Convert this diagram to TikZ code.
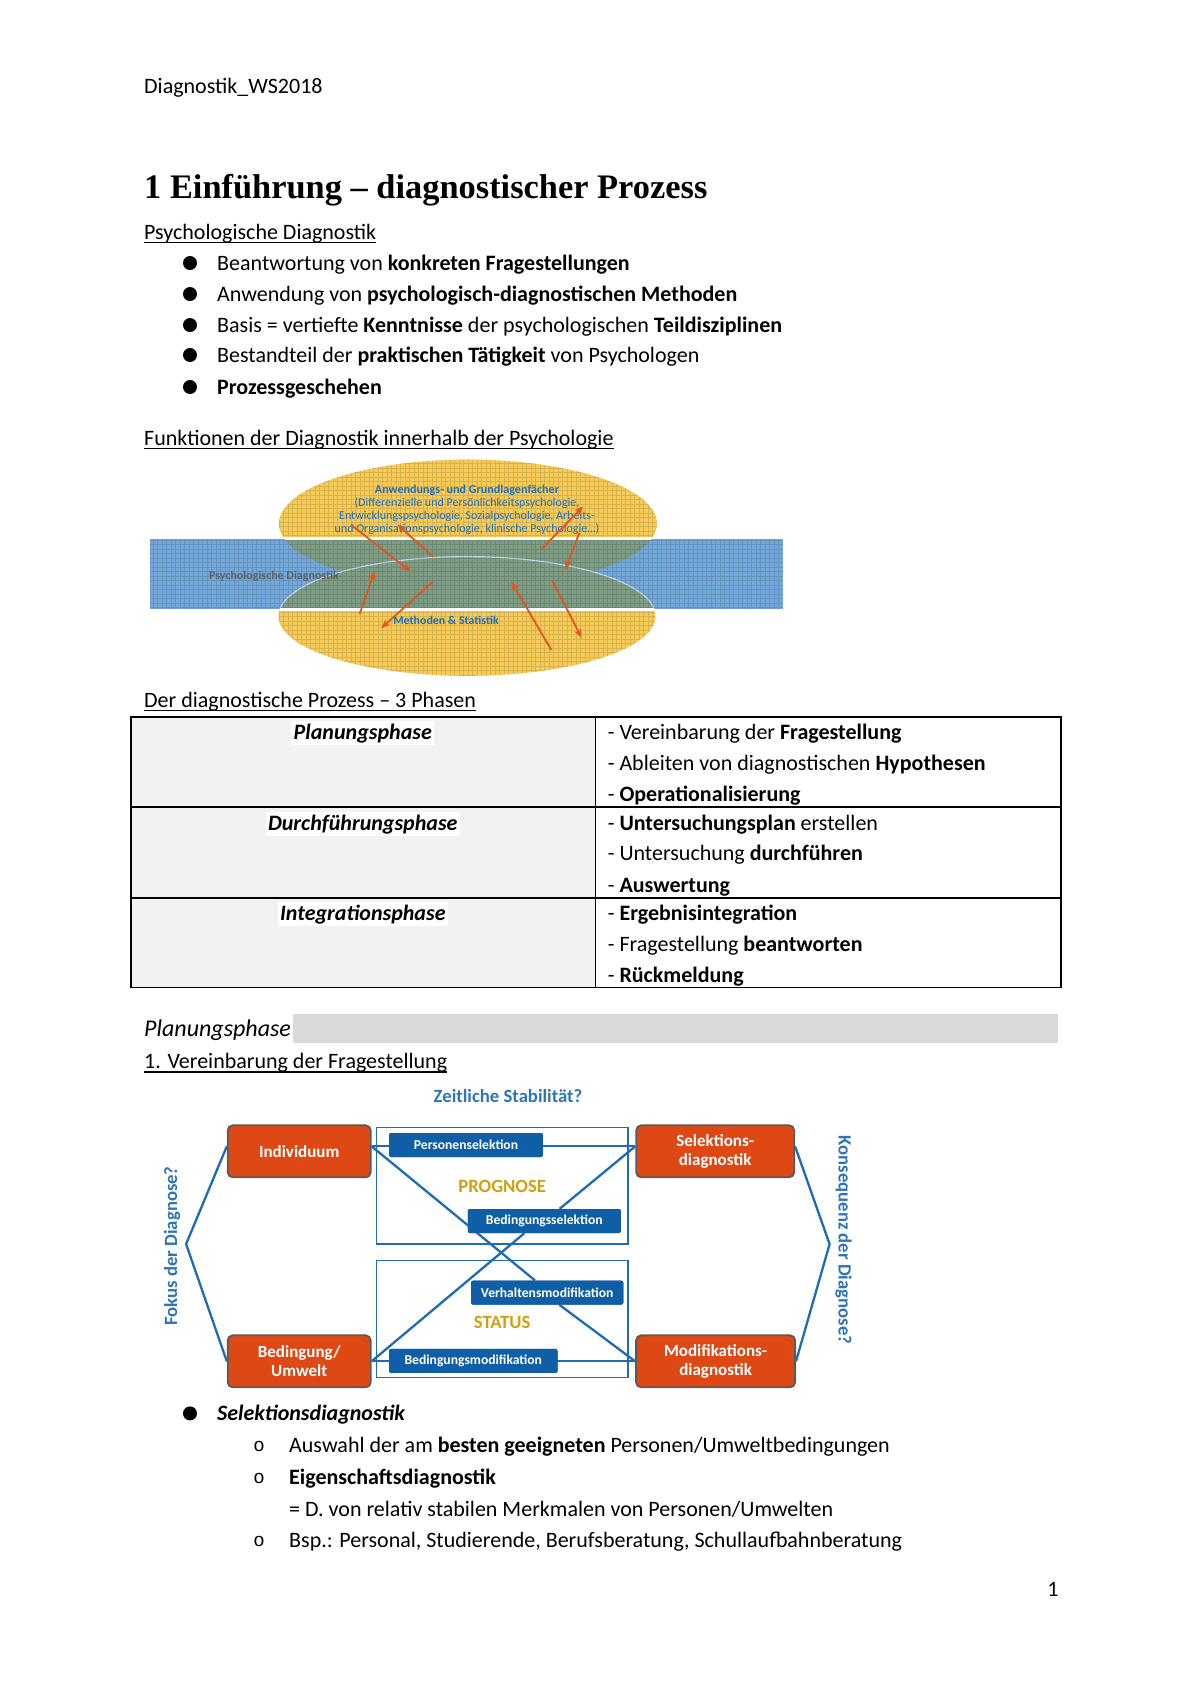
\documentclass[tikz,border=0pt]{standalone}
\usepackage{fontspec}
\setmainfont{Carlito}
\newfontfamily\headfont{Liberation Serif}
\newfontfamily\monofnt{Liberation Mono}
\usetikzlibrary{arrows.meta,calc}
\definecolor{ora}{HTML}{DD4814}
\definecolor{oraborder}{HTML}{5A5A5A}
\definecolor{bbox}{HTML}{0F5EA6}
\definecolor{bline}{HTML}{1F6CB4}
\definecolor{btext}{HTML}{2E75B6}
\definecolor{gold}{HTML}{D29F12}
\definecolor{ell}{HTML}{F7CB58}
\definecolor{bandc}{HTML}{74A8DA}
\definecolor{ovl}{HTML}{7E9D84}
\definecolor{arr}{HTML}{E4541E}
\definecolor{tgrey}{HTML}{F2F2F2}
\definecolor{barg}{HTML}{D9D9D9}
\definecolor{eltext}{HTML}{1F6FBF}
\tikzset{
 body/.style={anchor=base west, inner sep=0pt, font=\fontsize{22}{26}\selectfont},
 dotb/.style={circle, fill=black, inner sep=0pt, minimum size=14pt},
 subo/.style={anchor=base, inner sep=0pt, font=\monofnt\fontsize{19}{21}\selectfont},
 uline/.style={line width=1.1pt},
 tline/.style={line width=1.5pt},
 tlabel/.style={anchor=base, fill=white, inner sep=2.5pt, font=\bfseries\itshape\fontsize{22}{26}\selectfont},
 obox/.style={draw=oraborder, line width=1.8pt, fill=ora, rounded corners=5pt, text=white, font=\bfseries\fontsize{17}{19}\selectfont, align=center, minimum height=52pt, inner sep=0pt},
 sbox/.style={fill=bbox, rounded corners=2pt, text=white, font=\bfseries\fontsize{13.6}{15}\selectfont, inner sep=0pt, minimum height=24pt},
 frame/.style={draw=bline, line width=1.5pt, inner sep=0pt},
 bl/.style={draw=bline, line width=2.3pt},
 rarr/.style={draw=arr, line width=1.8pt, -{Stealth[length=9pt,width=7pt]}},
 eltxt/.style={font=\fontsize{12}{14}\selectfont, text=eltext, inner sep=0pt},
 dlab/.style={font=\bfseries\fontsize{18.7}{21}\selectfont, text=btext, inner sep=0pt},
 texgrid/.style={step=4.5pt, black, opacity=0.12, line width=0.6pt},
}
\begin{document}
\begin{tikzpicture}[x=1pt,y=-1pt]
\useasboundingbox (0,0) rectangle (1200,1698);
\fill[white] (0,0) rectangle (1200,1698);

% header and title
\node[body] (hdr) at (144,93) {Diagnostik\_WS2018};
\node[anchor=base west, inner sep=0pt, font=\headfont\bfseries\fontsize{34.4}{40}\selectfont] (title) at (144,198) {1 Einführung – diagnostischer Prozess};

\node[body] (s1) at (144,239) {Psychologische Diagnostik};
\draw[uline] ([yshift=-3.5pt]s1.base west) -- ([yshift=-3.5pt]s1.base east);

\node[dotb] (d1) at (190,263) {};
\node[body] (b1) at (217,270) {Beantwortung von \textbf{konkreten Fragestellungen}};
\node[dotb] (d2) at (190,294) {};
\node[body] (b2) at (217,301) {Anwendung von \textbf{psychologisch-diagnostischen Methoden}};
\node[dotb] (d3) at (190,325) {};
\node[body] (b3) at (217,332) {Basis = vertiefte \textbf{Kenntnisse} der psychologischen \textbf{Teildisziplinen}};
\node[dotb] (d4) at (190,355) {};
\node[body] (b4) at (217,362) {Bestandteil der \textbf{praktischen Tätigkeit} von Psychologen};
\node[dotb] (d5) at (190,387) {};
\node[body] (b5) at (217,394) {\textbf{Prozessgeschehen}};

\node[body] (s2) at (144,445) {Funktionen der Diagnostik innerhalb der Psychologie};
\draw[uline] ([yshift=-3.5pt]s2.base west) -- ([yshift=-3.5pt]s2.base east);

% ---- ellipse diagram
\fill[ell] (468,523.6) ellipse [x radius=189, y radius=64];
\fill[ell] (467,616.2) ellipse [x radius=188.5, y radius=59.6];
\fill[bandc] (149.5,539.3) rectangle (783,608.7);
\begin{scope}
 \clip (149.5,539.3) rectangle (783,608.7);
 \fill[ovl] (468,523.6) ellipse [x radius=189, y radius=64];
 \fill[ovl] (467,616.2) ellipse [x radius=188.5, y radius=59.6];
 \draw[white!55!bandc, line width=1.2pt] (467,616.2) ellipse [x radius=188.5, y radius=59.6];
 \draw[texgrid] (140,455) grid (790,690);
\end{scope}
\begin{scope}
 \clip (140,440) rectangle (800,539.3);
 \clip (468,523.6) ellipse [x radius=189, y radius=64];
 \draw[texgrid] (140,455) grid (790,690);
\end{scope}
\begin{scope}
 \clip (140,608.7) rectangle (800,690);
 \clip (467,616.2) ellipse [x radius=188.5, y radius=59.6];
 \draw[texgrid] (140,455) grid (790,690);
\end{scope}
\begin{scope}
 \clip (468,523.6) ellipse [x radius=189, y radius=64];
 \draw[white, line width=3.5pt] (140,538.5) -- (800,538.5);
\end{scope}
\begin{scope}
 \clip (467,616.2) ellipse [x radius=188.5, y radius=59.6];
 \draw[white, line width=3.5pt] (140,609.5) -- (800,609.5);
\end{scope}

\node[eltxt, font=\bfseries\fontsize{12.1}{14}\selectfont] (af) at (467,490.6) {Anwendungs- und Grundlagenfächer};
\node[eltxt] (af1) at (467,503.6) {(Differenzielle und Persönlichkeitspsychologie,};
\node[eltxt] (af2) at (467,516.6) {Entwicklungspsychologie, Sozialpsychologie, Arbeits-};
\node[eltxt] (af3) at (467,529.6) {und Organisationspsychologie, klinische Psychologie…)};
\node[font=\bfseries\fontsize{12}{14}\selectfont, text=black!62, inner sep=0pt] (pd) at (274,576) {Psychologische Diagnostik};
\node[eltxt, font=\bfseries\fontsize{11.9}{14}\selectfont] (ms) at (446,620.6) {Methoden \& Statistik};

\coordinate (a1s) at (350.9,524.7); \coordinate (a1e) at (410.5,571.3);
\coordinate (a2s) at (433.2,556.7); \coordinate (a2e) at (397.5,524.7);
\coordinate (a3s) at (541,549.6);   \coordinate (a3e) at (583.2,506.4);
\coordinate (a4s) at (579.4,532.8); \coordinate (a4e) at (565.3,569.7);
\coordinate (a5s) at (359.6,614.1); \coordinate (a5e) at (374.7,571.3);
\coordinate (a6s) at (433.2,581.6); \coordinate (a6e) at (381.2,628.1);
\coordinate (a7s) at (551.3,649.8); \coordinate (a7e) at (511.2,581.6);
\coordinate (a8s) at (552.3,580.5); \coordinate (a8e) at (581.6,637.9);
\foreach \i in {1,...,8} { \draw[rarr] (a\i s) -- (a\i e); }

% ---- table
\node[body] (s3) at (144,707) {Der diagnostische Prozess – 3 Phasen};
\draw[uline] ([yshift=-3.5pt]s3.base west) -- ([yshift=-3.5pt]s3.base east);

\fill[tgrey] (131,717) rectangle (595.7,987.7);
\draw[tline] (131,717) rectangle (1061,987.7);
\draw[tline] (595.7,717) -- (595.7,987.7);
\draw[tline] (131,806.8) -- (1061,806.8);
\draw[tline] (131,897.8) -- (1061,897.8);

\node[tlabel] (p1) at (362.8,739) {Planungsphase};
\node[tlabel] (p2) at (362.8,830) {Durchführungsphase};
\node[tlabel] (p3) at (362.8,920) {Integrationsphase};

\node[body] (r11) at (607.6,739) {- Vereinbarung der \textbf{Fragestellung}};
\node[body] (r12) at (607.6,770.5) {- Ableiten von diagnostischen \textbf{Hypothesen}};
\node[body] (r13) at (607.6,801) {- \textbf{Operationalisierung}};
\node[body] (r21) at (607.6,830) {- \textbf{Untersuchungsplan} erstellen};
\node[body] (r22) at (607.6,860.5) {- Untersuchung \textbf{durchführen}};
\node[body] (r23) at (607.6,892) {- \textbf{Auswertung}};
\node[body] (r31) at (607.6,920) {- \textbf{Ergebnisintegration}};
\node[body] (r32) at (607.6,951.5) {- Fragestellung \textbf{beantworten}};
\node[body] (r33) at (607.6,982) {- \textbf{Rückmeldung}};

% ---- Planungsphase heading
\fill[barg] (293,1014) rectangle (1058,1043);
\node[body, font=\itshape\fontsize{24}{28}\selectfont] (ph) at (144,1036.5) {Planungsphase};
\node[body] (s4) at (144,1068.5) {1. Vereinbarung der Fragestellung};
\draw[uline] ([yshift=-3.5pt]s4.base west) -- ([yshift=-3.5pt]s4.base east);

% ---- diagram 3
\node[dlab] (zs) at (508,1096) {Zeitliche Stabilität?};

\node[frame, minimum width=251.5pt, minimum height=116.7pt] (rtop) at (502.45,1185.85) {};
\node[frame, minimum width=251.5pt, minimum height=116.9pt] (rbot) at (502.45,1319.15) {};

\node[obox, minimum width=143pt] (ind) at (299.2,1151.3) {Individuum};
\node[obox, minimum width=158pt] (sel) at (715.2,1151.3) {Selektions-\\diagnostik};
\node[obox, minimum width=143pt] (bed) at (299.2,1361.3) {Bedingung/\\Umwelt};
\node[obox, minimum width=159pt] (mod) at (715.6,1361.3) {Modifikations-\\diagnostik};

\coordinate (lv) at (186.1,1244.1);
\coordinate (rv) at (829.6,1244.1);

% small boxes (positions), lines, then boxes redrawn on top
\path (466,1145) node[sbox, minimum width=153.8pt] (pers) {Personenselektion};
\path (544.3,1221) node[sbox, minimum width=153.1pt] (bsel) {Bedingungsselektion};
\path (547.2,1292.6) node[sbox, minimum width=152.2pt] (verh) {Verhaltensmodifikation};
\path (473.3,1360.9) node[sbox, minimum width=168.4pt] (bmod) {Bedingungsmodifikation};

\draw[bl] ([yshift=5pt]ind.west) -- (lv) -- (bed.west);
\draw[bl] ([yshift=5pt]sel.east) -- (rv) -- (mod.east);
\draw[bl] ([yshift=5pt]ind.east) -- ([yshift=5pt]sel.west);
\draw[bl] (bed.east) -- (mod.west);
\draw[bl] ([yshift=5pt]ind.east) -- ($(verh.north west)!0.42!(verh.north east)$);
\draw[bl] (bed.east) -- ($(bsel.south west)!0.37!(bsel.south east)$);
\draw[bl] ($(bsel.north west)!0.6!(bsel.north east)$) -- ([yshift=5pt]sel.west);
\draw[bl] ($(verh.south west)!0.58!(verh.south east)$) -- (mod.west);

\path (466,1145) node[sbox, minimum width=153.8pt] (pers2) {Personenselektion};
\path (544.3,1221) node[sbox, minimum width=153.1pt] (bsel2) {Bedingungsselektion};
\path (547.2,1292.6) node[sbox, minimum width=152.2pt] (verh2) {Verhaltensmodifikation};
\path (473.3,1360.9) node[sbox, minimum width=168.4pt] (bmod2) {Bedingungsmodifikation};

\node[font=\bfseries\fontsize{18.7}{21}\selectfont, text=gold, inner sep=0pt] (prog) at (502.2,1186.5) {PROGNOSE};
\node[font=\bfseries\fontsize{18.7}{21}\selectfont, text=gold, inner sep=0pt] (stat) at (502.2,1322.5) {STATUS};

\node[dlab, rotate=90] (fok) at (172.2,1246) {Fokus der Diagnose?};
\node[dlab, rotate=-90] (kon) at (843.7,1240) {Konsequenz der Diagnose?};

% ---- bottom list
\node[dotb] (d6) at (190,1413.4) {};
\node[body, font=\bfseries\itshape\fontsize{22}{26}\selectfont] (b6) at (217,1420.5) {Selektionsdiagnostik};
\node[subo] (o1) at (259,1451) {o};
\node[body] (c1) at (289,1452) {Auswahl der am \textbf{besten geeigneten} Personen/Umweltbedingungen};
\node[subo] (o2) at (259,1483) {o};
\node[body] (c2) at (289,1484) {\textbf{Eigenschaftsdiagnostik}};
\node[body] (c3) at (289,1516) {= D. von relativ stabilen Merkmalen von Personen/Umwelten};
\node[subo] (o3) at (259,1546) {o};
\node[body] (c4) at (289,1547) {Bsp.: Personal, Studierende, Berufsberatung, Schullaufbahnberatung};

\node[body, anchor=base] (pg) at (1053,1596) {1};
\end{tikzpicture}
\end{document}
